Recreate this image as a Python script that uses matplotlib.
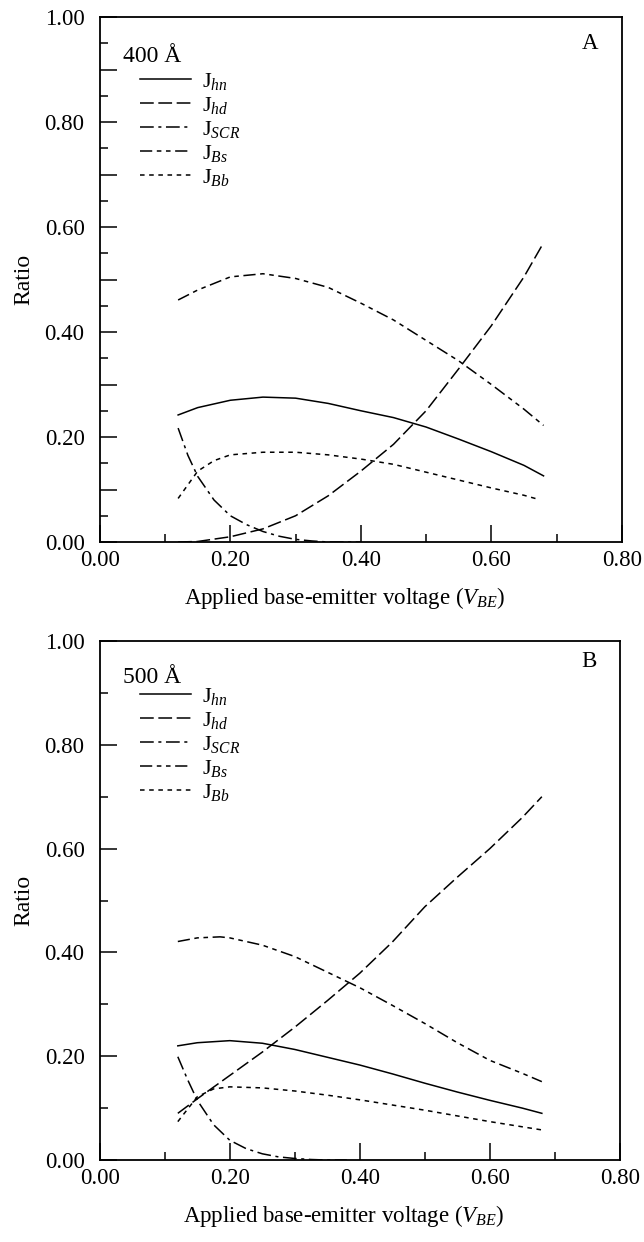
import matplotlib
matplotlib.use("Agg")
import matplotlib.pyplot as plt
from matplotlib.ticker import MultipleLocator, FuncFormatter

plt.rcParams['font.family'] = ['Liberation Serif', 'DejaVu Serif']
plt.rcParams['mathtext.fontset'] = 'custom'
plt.rcParams['mathtext.rm'] = 'Liberation Serif'
plt.rcParams['mathtext.it'] = 'Liberation Serif:italic'

# ---- panel A (400 A) ----
v_a = [0.12, 0.15, 0.20, 0.25, 0.30, 0.35, 0.40, 0.45, 0.50, 0.55, 0.60, 0.65, 0.68]
hn_a = [0.242, 0.256, 0.270, 0.276, 0.274, 0.264, 0.250, 0.237, 0.219, 0.196, 0.172, 0.146, 0.126]
hd_a = [0.0, 0.001, 0.010, 0.025, 0.050, 0.088, 0.135, 0.186, 0.250, 0.330, 0.412, 0.505, 0.570]
bs_a = [0.461, 0.480, 0.505, 0.511, 0.502, 0.485, 0.455, 0.423, 0.384, 0.345, 0.300, 0.253, 0.222]
v_scr_a = [0.12, 0.135, 0.15, 0.175, 0.20, 0.225, 0.25, 0.275, 0.30, 0.325, 0.35, 0.40]
scr_a = [0.217, 0.165, 0.125, 0.080, 0.050, 0.033, 0.020, 0.011, 0.005, 0.002, 0.0, 0.0]
v_bb_a = [0.12, 0.15, 0.175, 0.20, 0.25, 0.30, 0.35, 0.40, 0.45, 0.50, 0.55, 0.60, 0.65, 0.67]
bb_a = [0.083, 0.135, 0.155, 0.166, 0.171, 0.171, 0.166, 0.158, 0.148, 0.133, 0.118, 0.103, 0.089, 0.082]

# ---- panel B (500 A) ----
v_b = [0.12, 0.15, 0.20, 0.25, 0.30, 0.35, 0.40, 0.45, 0.50, 0.55, 0.60, 0.65, 0.68]
hn_b = [0.220, 0.226, 0.230, 0.225, 0.213, 0.198, 0.183, 0.166, 0.148, 0.131, 0.115, 0.100, 0.090]
hd_b = [0.090, 0.118, 0.163, 0.208, 0.256, 0.307, 0.360, 0.420, 0.488, 0.545, 0.600, 0.660, 0.700]
v_bs_b = [0.12, 0.15, 0.185, 0.20, 0.25, 0.30, 0.35, 0.40, 0.45, 0.50, 0.55, 0.60, 0.65, 0.68]
bs_b = [0.421, 0.428, 0.430, 0.428, 0.414, 0.392, 0.362, 0.332, 0.298, 0.263, 0.226, 0.192, 0.167, 0.151]
v_scr_b = [0.12, 0.135, 0.15, 0.175, 0.20, 0.225, 0.25, 0.275, 0.30, 0.325, 0.35, 0.38]
scr_b = [0.199, 0.155, 0.115, 0.068, 0.038, 0.022, 0.012, 0.006, 0.003, 0.001, 0.0, 0.0]
v_bb_b = [0.12, 0.15, 0.175, 0.20, 0.25, 0.30, 0.35, 0.40, 0.45, 0.50, 0.55, 0.60, 0.65, 0.68]
bb_b = [0.074, 0.122, 0.137, 0.141, 0.139, 0.133, 0.125, 0.116, 0.106, 0.096, 0.085, 0.074, 0.064, 0.058]

labels = [r'J$_{\mathit{hn}}$', r'J$_{\mathit{hd}}$', r'J$_{\mathit{SCR}}$',
          r'J$_{\mathit{Bs}}$', r'J$_{\mathit{Bb}}$']
styles = ['-', (0, (9, 3)), (0, (9, 3, 2, 3)), (0, (8, 3, 3, 3, 3, 3)), (0, (3, 3))]


def draw_panel(ax, series, thick, letter, yminor, thick_y, leg_y, letter_y):
    for (x, y), ls, lab in zip(series, styles, labels):
        ax.plot(x, y, color='black', lw=1.1, linestyle=ls, label=lab)
    ax.set_xlim(0, 0.8)
    ax.set_ylim(0, 1.0)
    ax.xaxis.set_major_locator(MultipleLocator(0.2))
    ax.xaxis.set_minor_locator(MultipleLocator(0.1))
    if yminor == 0.05:
        ax.yaxis.set_major_locator(MultipleLocator(0.1))
        ax.yaxis.set_major_formatter(FuncFormatter(
            lambda v, p: '%.2f' % v if round(v * 10) % 2 == 0 else ''))
        ax.yaxis.set_minor_locator(MultipleLocator(0.05))
    else:
        ax.yaxis.set_major_locator(MultipleLocator(0.2))
        ax.yaxis.set_minor_locator(MultipleLocator(0.1))
        ax.yaxis.set_major_formatter(FuncFormatter(lambda v, p: '%.2f' % v))
    ax.xaxis.set_major_formatter(FuncFormatter(lambda v, p: '%.2f' % v))
    ax.tick_params(which='major', direction='in', length=12, width=1.1, labelsize=16.5)
    ax.tick_params(which='minor', direction='in', length=6, width=1.1)
    ax.tick_params(axis='x', which='major', pad=6)
    ax.tick_params(axis='y', which='major', pad=11)
    for s in ax.spines.values():
        s.set_linewidth(1.3)
    ax.set_xlabel(r'Applied base-emitter voltage ($\mathit{V}_{\mathit{BE}}$)', fontsize=16.5)
    ax.xaxis.set_label_coords(0.47, -0.082)
    ax.set_ylabel('Ratio', fontsize=17)
    ax.yaxis.set_label_coords(-0.125, 0.5)
    ax.text(0.044, thick_y, thick, transform=ax.transAxes, fontsize=17, va='center', ha='left')
    ax.text(0.94, letter_y, letter, transform=ax.transAxes, fontsize=16.5, va='center', ha='center')
    ax.legend(loc='upper left', bbox_to_anchor=(0.077, leg_y), frameon=False, fontsize=16,
              handlelength=2.3, handletextpad=0.5, labelspacing=0.13, borderpad=0,
              borderaxespad=0)


fig = plt.figure(figsize=(6.44, 12.42), dpi=100)
ax_a = fig.add_axes([0.155, 0.5636, 0.8106, 0.4227])
ax_b = fig.add_axes([0.155, 0.066, 0.8075, 0.4179])

draw_panel(ax_a, [(v_a, hn_a), (v_a, hd_a), (v_scr_a, scr_a), (v_a, bs_a), (v_bb_a, bb_a)],
           '400 Å', 'A', 0.05, 0.924, 0.897, 0.950)
draw_panel(ax_b, [(v_b, hn_b), (v_b, hd_b), (v_scr_b, scr_b), (v_bs_b, bs_b), (v_bb_b, bb_b)],
           '500 Å', 'B', 0.1, 0.929, 0.913, 0.961)

fig.savefig('out.png', dpi=100)
